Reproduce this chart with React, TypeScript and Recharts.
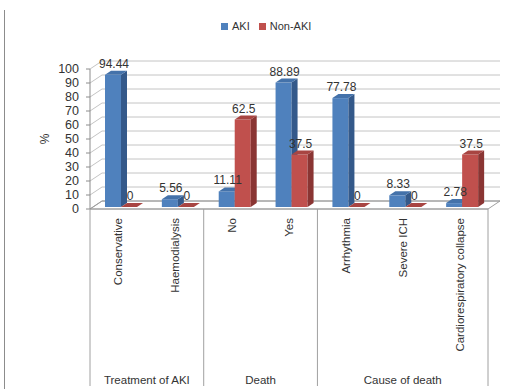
import React from 'react';
import { BarChart, Bar, XAxis, YAxis, CartesianGrid, LabelList } from 'recharts';

// ---- data ----
const categories = ['Conservative', 'Haemodialysis', 'No', 'Yes', 'Arrhythmia', 'Severe ICH', 'Cardiorespiratory collapse'];
const groupNames = ['Treatment of AKI', 'Death', 'Cause of death'];
const groupSizes = [2, 2, 3];
const akiValues = [94.44, 5.56, 11.11, 88.89, 77.78, 8.33, 2.78];
const nonAkiValues = [0, 0, 62.5, 37.5, 0, 0, 37.5];
const yTicks = [0, 10, 20, 30, 40, 50, 60, 70, 80, 90, 100];
const seriesNames = ['AKI', 'Non-AKI'];

const data = categories.map((name, i) => ({ name, aki: akiValues[i], nonAki: nonAkiValues[i] }));

// ---- layout & style ----
const W = 529;
const H = 389;
const MARGIN = { top: 69, right: 41, bottom: 4, left: 30 };
const XAXIS_H = 176;
const PLOT_BOTTOM = H - MARGIN.bottom - XAXIS_H;
const WALL_DX = 12; // depth of the floor / back wall
const WALL_DY = -8;
const BAR_SHIFT_X = 3; // bars sit half way into the floor depth
const BAR_SHIFT_Y = -2;
const BAR_DX = 6; // depth of each bar
const BAR_DY = -4;
const FONT = '"Liberation Sans", Arial, sans-serif';
const TEXT = '#333333';
const GRID = '#C4C4C4';
const EDGE = '#A0A0A0';

const COLORS = {
  aki: { front: '#4F81BD', top: '#4472AA', side: '#34598A' },
  nonAki: { front: '#C0504D', top: '#A84542', side: '#8A3533' },
};

const make3DBar = (c: { front: string; top: string; side: string }) => (props: any) => {
  const { x, y, width, height } = props;
  if (x == null || y == null) return null;
  const w = width;
  const h = Math.max(height || 0, 0);
  const fx = x + BAR_SHIFT_X;
  const fy = y + BAR_SHIFT_Y;
  return (
    <g>
      <rect x={fx} y={fy} width={w} height={h} fill={c.front} />
      <polygon
        points={`${fx + w},${fy} ${fx + w + BAR_DX},${fy + BAR_DY} ${fx + w + BAR_DX},${fy + h + BAR_DY} ${fx + w},${fy + h}`}
        fill={c.side}
      />
      <polygon
        points={`${fx},${fy} ${fx + BAR_DX},${fy + BAR_DY} ${fx + w + BAR_DX},${fy + BAR_DY} ${fx + w},${fy}`}
        fill={c.top}
      />
    </g>
  );
};

const renderValueLabel = (props: any) => {
  const { x, y, width, value } = props;
  if (x == null || y == null) return null;
  return (
    <text
      x={x + BAR_SHIFT_X + width / 2 + 1}
      y={y + BAR_SHIFT_Y - 7}
      textAnchor="middle"
      fontFamily={FONT}
      fontSize={12}
      fill={TEXT}
    >
      {value}
    </text>
  );
};

// back wall lines, left wall diagonals and the floor
const renderGridLine = (props: any) => {
  const { x1, x2, y1 } = props;
  const isFloor = Math.abs(y1 - PLOT_BOTTOM) < 0.5;
  return (
    <g>
      {isFloor && (
        <polygon
          points={`${x1},${y1} ${x2},${y1} ${x2 + WALL_DX},${y1 + WALL_DY} ${x1 + WALL_DX},${y1 + WALL_DY}`}
          fill="#FFFFFF"
          stroke={EDGE}
          strokeWidth={1}
        />
      )}
      <line x1={x1} y1={y1} x2={x1 + WALL_DX} y2={y1 + WALL_DY} stroke={isFloor ? EDGE : GRID} strokeWidth={1} />
      <line x1={x1 + WALL_DX} y1={y1 + WALL_DY} x2={x2 + WALL_DX} y2={y1 + WALL_DY} stroke={isFloor ? EDGE : GRID} strokeWidth={1} />
    </g>
  );
};

// group start indices
const groupStarts: number[] = [];
groupSizes.reduce((acc, n) => {
  groupStarts.push(acc);
  return acc + n;
}, 0);

const CategoryTick = (props: any) => {
  const { x, y, payload } = props;
  const i: number = payload.index ?? props.index;
  const half: number = payload.offset ?? 398 / categories.length / 2;
  const top = y - 8;
  const gIdx = groupStarts.indexOf(i);
  const bottom = 386;
  return (
    <g>
      <text
        transform={`translate(${x},${y + 1}) rotate(-90)`}
        textAnchor="end"
        dominantBaseline="central"
        fontFamily={FONT}
        fontSize={11.5}
        fill={TEXT}
      >
        {payload.value}
      </text>
      {gIdx >= 0 && (
        <>
          <line x1={x - half} y1={top} x2={x - half} y2={bottom} stroke={EDGE} strokeWidth={1} />
          <text
            x={x - half + groupSizes[gIdx] * half}
            y={384}
            textAnchor="middle"
            fontFamily={FONT}
            fontSize={11.5}
            fill={TEXT}
          >
            {groupNames[gIdx]}
          </text>
        </>
      )}
      {i === categories.length - 1 && (
        <line x1={x + half} y1={top} x2={x + half} y2={bottom} stroke={EDGE} strokeWidth={1} />
      )}
    </g>
  );
};

const Legend3D = () => (
  <div
    style={{
      position: 'absolute',
      left: 221,
      top: 20,
      display: 'flex',
      alignItems: 'center',
      fontFamily: FONT,
      fontSize: 11,
      color: TEXT,
      whiteSpace: 'nowrap',
    }}
  >
    {seriesNames.map((s, k) => (
      <span key={s} style={{ display: 'flex', alignItems: 'center', marginRight: 9 }}>
        <span
          style={{
            display: 'inline-block',
            width: 7,
            height: 7,
            background: k === 0 ? COLORS.aki.front : COLORS.nonAki.front,
            marginRight: 4,
          }}
        />
        {s}
      </span>
    ))}
  </div>
);

export default function App() {
  return (
    <div style={{ position: 'absolute', left: 0, top: 0, width: W, height: H, background: '#FFFFFF' }}>
      <div style={{ position: 'absolute', left: 4, top: 10, width: 1, height: H - 10, background: '#8C8C8C' }} />
      <Legend3D />
      <BarChart width={W} height={H} data={data} margin={MARGIN} barGap={0} barSize={16}>
        <CartesianGrid vertical={false} horizontal={renderGridLine} />
        <XAxis
          dataKey="name"
          interval={0}
          tickLine={false}
          tickSize={8}
          tickMargin={0}
          height={XAXIS_H}
          axisLine={{ stroke: EDGE }}
          tick={<CategoryTick />}
        />
        <YAxis
          domain={[0, 100]}
          ticks={yTicks}
          interval={0}
          width={60}
          tickSize={4}
          tickMargin={7}
          axisLine={{ stroke: '#8C8C8C' }}
          tickLine={{ stroke: '#8C8C8C' }}
          tick={{ fontFamily: FONT, fontSize: 12.5, fill: TEXT }}
          label={{
            content: (p: any) => {
              const vb = p.viewBox || {};
              const cx = (vb.x ?? 30) + 15;
              const cy = (vb.y ?? 69) + (vb.height ?? 140) / 2;
              return (
                <text
                  transform={`translate(${cx},${cy}) rotate(-90)`}
                  textAnchor="middle"
                  dominantBaseline="central"
                  fontFamily={FONT}
                  fontSize={12}
                  fill={TEXT}
                >
                  %
                </text>
              );
            },
          }}
        />
        <Bar dataKey="aki" name={seriesNames[0]} isAnimationActive={false} shape={make3DBar(COLORS.aki)}>
          <LabelList dataKey="aki" content={renderValueLabel} />
        </Bar>
        <Bar dataKey="nonAki" name={seriesNames[1]} isAnimationActive={false} shape={make3DBar(COLORS.nonAki)}>
          <LabelList dataKey="nonAki" content={renderValueLabel} />
        </Bar>
      </BarChart>
    </div>
  );
}
